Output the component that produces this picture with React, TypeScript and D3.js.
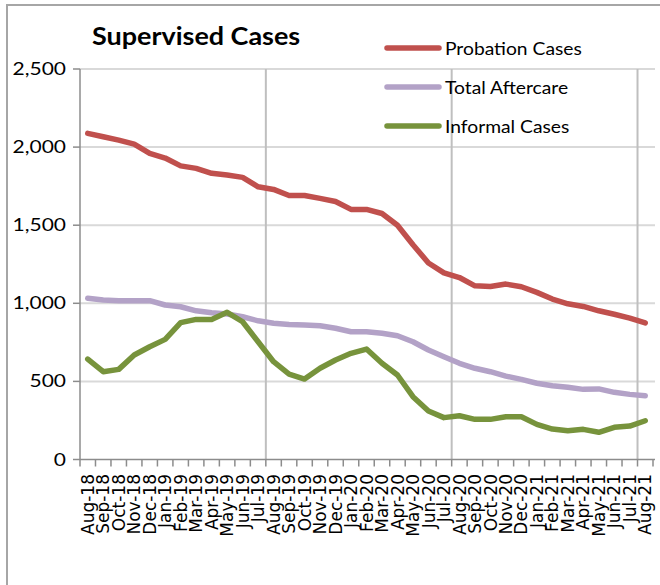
import React, { useEffect, useRef } from 'react';
import * as d3 from 'd3';

// Month labels (category axis)
const months: string[] = [
  'Aug-18', 'Sep-18', 'Oct-18', 'Nov-18', 'Dec-18',
  'Jan-19', 'Feb-19', 'Mar-19', 'Apr-19', 'May-19', 'Jun-19', 'Jul-19',
  'Aug-19', 'Sep-19', 'Oct-19', 'Nov-19', 'Dec-19',
  'Jan-20', 'Feb-20', 'Mar-20', 'Apr-20', 'May-20', 'Jun-20', 'Jul-20',
  'Aug-20', 'Sep-20', 'Oct-20', 'Nov-20', 'Dec-20',
  'Jan-21', 'Feb-21', 'Mar-21', 'Apr-21', 'May-21', 'Jun-21', 'Jul-21', 'Aug-21',
];

const probationCases: number[] = [
  2088, 2066, 2045, 2019, 1960, 1930, 1880, 1864, 1832, 1821, 1806, 1746,
  1729, 1690, 1690, 1672, 1652, 1601, 1601, 1575, 1500, 1375, 1258, 1195,
  1165, 1112, 1108, 1123, 1106, 1070, 1027, 997, 980, 952, 930, 905, 874,
];

const totalAftercare: number[] = [
  1032, 1021, 1017, 1017, 1017, 989, 978, 952, 940, 931, 914, 888,
  872, 864, 861, 856, 840, 818, 818, 808, 792, 754, 701, 658,
  616, 584, 562, 534, 513, 488, 472, 462, 449, 452, 430, 417, 408,
];

const informalCases: number[] = [
  643, 562, 577, 669, 722, 769, 876, 897, 897, 942, 882, 754,
  626, 547, 515, 584, 637, 680, 707, 616, 541, 402, 310, 268,
  280, 257, 257, 274, 274, 225, 195, 184, 193, 174, 206, 214, 248,
];

const yTicks: number[] = [0, 500, 1000, 1500, 2000, 2500];

const seriesNames: string[] = ['Probation Cases', 'Total Aftercare', 'Informal Cases'];
const seriesColors: string[] = ['#C0504D', '#B3A2C7', '#77933C'];

const App: React.FC = () => {
  const ref = useRef<SVGSVGElement | null>(null);

  useEffect(() => {
    if (!ref.current) return;
    const svg = d3.select(ref.current);
    svg.selectAll('*').remove();

    const W = 660;
    const H = 585;
    const left = 80, right = 653, top = 69, bottom = 459.5;

    svg.append('rect').attr('width', W).attr('height', H).attr('fill', '#fff');
    // outer chart border (left/top visible only)
    svg.append('rect')
      .attr('x', 7).attr('y', 5).attr('width', 700).attr('height', 700)
      .attr('fill', 'none').attr('stroke', '#a6a6a6').attr('stroke-width', 2);

    const x = d3.scaleBand<string>().domain(months).range([left, right]);
    const y = d3.scaleLinear().domain([0, 2500]).range([bottom, top]);

    // horizontal grid
    svg.append('g').selectAll('line')
      .data(yTicks.filter(d => d > 0))
      .enter().append('line')
      .attr('x1', left).attr('x2', 655)
      .attr('y1', d => y(d)).attr('y2', d => y(d))
      .attr('stroke', '#d9d9d9').attr('stroke-width', 2);

    // vertical grid every 12 months
    const majorIdx = [12, 24, 36];
    svg.append('g').selectAll('line')
      .data(majorIdx)
      .enter().append('line')
      .attr('x1', i => x(months[i])!).attr('x2', i => x(months[i])!)
      .attr('y1', top).attr('y2', bottom)
      .attr('stroke', '#bfbfbf').attr('stroke-width', 2);

    // axes
    svg.append('line').attr('x1', left).attr('x2', left).attr('y1', top).attr('y2', bottom)
      .attr('stroke', '#8c8c8c').attr('stroke-width', 1.5);
    svg.append('line').attr('x1', left).attr('x2', 655).attr('y1', bottom).attr('y2', bottom)
      .attr('stroke', '#8c8c8c').attr('stroke-width', 1.5);

    // y ticks + labels
    svg.append('g').selectAll('line')
      .data(yTicks)
      .enter().append('line')
      .attr('x1', left - 7).attr('x2', left)
      .attr('y1', d => y(d)).attr('y2', d => y(d))
      .attr('stroke', '#8c8c8c').attr('stroke-width', 1.5);

    svg.append('g').selectAll('text')
      .data(yTicks)
      .enter().append('text')
      .attr('transform', d => `translate(66,${y(d) + 6}) scale(1.2,1)`)
      .attr('text-anchor', 'end')
      .style('font-family', 'Lato, sans-serif')
      .style('font-size', '17.5px')
      .style('fill', '#000')
      .text(d => d3.format(',')(d));

    // x ticks at category boundaries
    const boundaries = months.map(m => x(m)!).concat([right]);
    svg.append('g').selectAll('line')
      .data(boundaries)
      .enter().append('line')
      .attr('x1', d => d).attr('x2', d => d)
      .attr('y1', bottom).attr('y2', bottom + 7)
      .attr('stroke', '#8c8c8c').attr('stroke-width', 1.5);

    // x labels, rotated
    svg.append('g').selectAll('text')
      .data(months)
      .enter().append('text')
      .attr('transform', d => `translate(${x(d)! + x.bandwidth() / 2},474) rotate(-90)`)
      .attr('text-anchor', 'end')
      .attr('dy', '0.36em')
      .style('font-family', '"DejaVu Sans", sans-serif')
      .style('font-size', '17px')
      .style('fill', '#000')
      .text(d => d);

    // lines
    const line = d3.line<number>()
      .x((_, i) => x(months[i])! + x.bandwidth() / 2)
      .y(d => y(d));

    [probationCases, totalAftercare, informalCases].forEach((s, k) => {
      svg.append('path')
        .datum(s)
        .attr('d', line)
        .attr('fill', 'none')
        .attr('stroke', seriesColors[k])
        .attr('stroke-width', 5.5)
        .attr('stroke-linejoin', 'round')
        .attr('stroke-linecap', 'round');
    });

    // title
    svg.append('text')
      .attr('transform', 'translate(92,45) scale(1.1,1)')
      .style('font-family', 'Lato, sans-serif')
      .style('font-size', '24.5px')
      .style('font-weight', 'bold')
      .style('fill', '#000')
      .text('Supervised Cases');

    // legend
    const legend = svg.append('g');
    seriesNames.forEach((name, k) => {
      const ly = 48 + k * 39;
      legend.append('line')
        .attr('x1', 387).attr('x2', 439)
        .attr('y1', ly).attr('y2', ly)
        .attr('stroke', seriesColors[k]).attr('stroke-width', 5.5)
        .attr('stroke-linecap', 'round');
      legend.append('text')
        .attr('transform', `translate(445,${ly + 7}) scale(1.07,1)`)
        .style('font-family', 'Lato, sans-serif')
        .style('font-size', '18px')
        .style('fill', '#000')
        .text(name);
    });
  }, []);

  return (
    <svg
      ref={ref}
      width={660}
      height={585}
      style={{ position: 'fixed', left: 0, top: 0, display: 'block' }}
    />
  );
};

export default App;
